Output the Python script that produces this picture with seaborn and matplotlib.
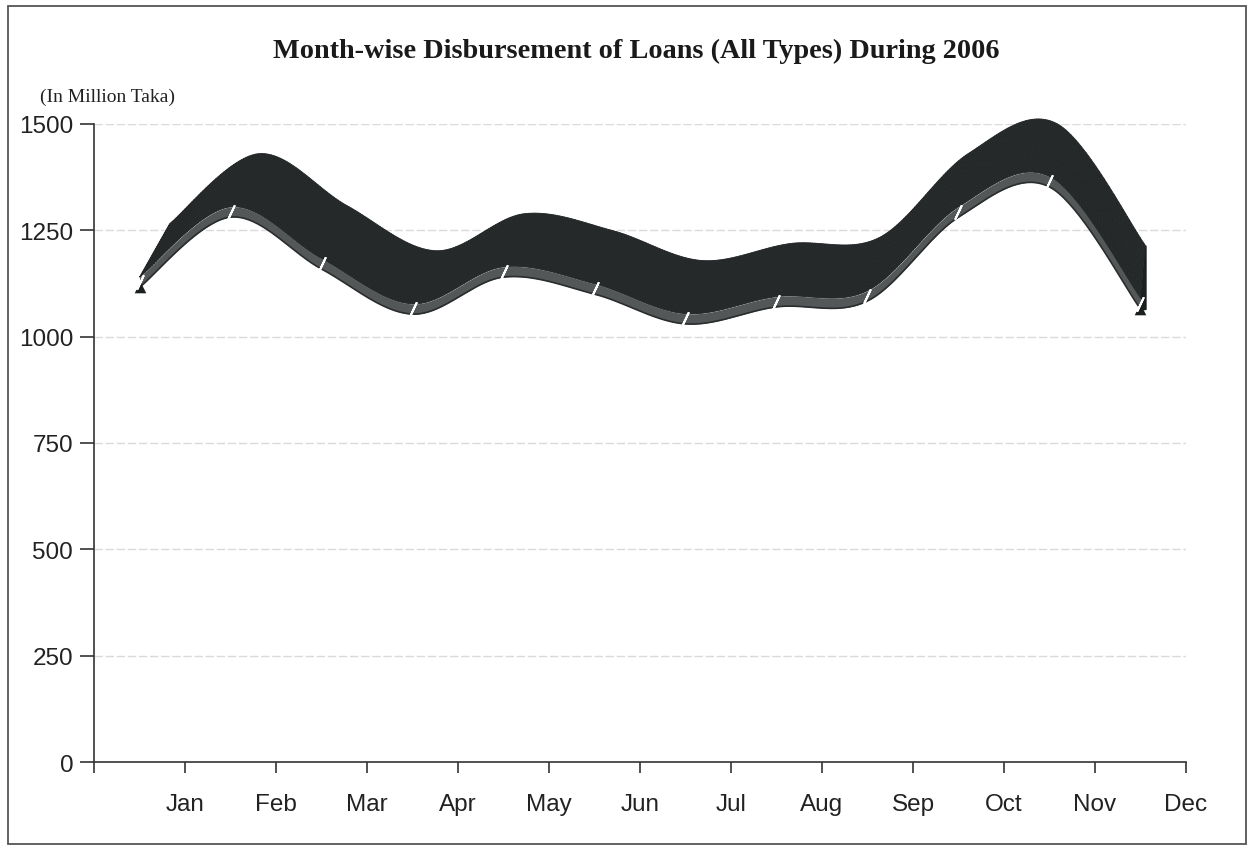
import numpy as np
import pandas as pd
import seaborn as sns
import matplotlib.pyplot as plt
from matplotlib.collections import PolyCollection
from matplotlib.patches import Rectangle

months = ['Jan', 'Feb', 'Mar', 'Apr', 'May', 'Jun', 'Jul', 'Aug', 'Sep', 'Oct', 'Nov', 'Dec']
disbursement = [1128, 1293, 1171, 1065, 1152, 1112, 1042, 1082, 1096, 1293, 1364, 1077]
yticks = [0, 250, 500, 750, 1000, 1250, 1500]

df = pd.DataFrame({'month': months, 'value': disbursement})
df['pos'] = np.arange(len(df)) + 0.5

sns.set_style('white')
plt.rcParams['font.family'] = ['Liberation Sans', 'DejaVu Sans']

fig = plt.figure(figsize=(12.57, 8.53), dpi=100)
ax = fig.add_axes([0.0748, 0.1055, 0.8687, 0.748])


# smoothed curve (catmull-rom) through the points, like excel's smoothed line
def smooth(x, y, n=40):
    x = np.asarray(x, float)
    y = np.asarray(y, float)
    px = np.concatenate([[x[0]], x, [x[-1]]])
    py = np.concatenate([[y[0]], y, [y[-1]]])
    xs, ys = [], []
    for i in range(1, len(px) - 2):
        t = np.linspace(0, 1, n, endpoint=False)
        for arr, out in ((px, xs), (py, ys)):
            p0, p1, p2, p3 = arr[i - 1], arr[i], arr[i + 1], arr[i + 2]
            out.append(0.5 * ((2 * p1) + (-p0 + p2) * t
                              + (2 * p0 - 5 * p1 + 4 * p2 - p3) * t ** 2
                              + (-p0 + 3 * p1 - 3 * p2 + p3) * t ** 3))
    xs.append([x[-1]])
    ys.append([y[-1]])
    return np.concatenate(xs), np.concatenate(ys)


sx, sy = smooth(df['pos'], df['value'])

half = 12
depth_y = 125
# depth offset in x shrinks to the right (perspective)
depth_x = 0.33 - 0.275 * (sx - sx.min()) / (sx.max() - sx.min())

front_top = sy + half
back_x = sx + depth_x
back_y = front_top + depth_y

quads = []
for i in range(len(sx) - 1):
    quads.append([(sx[i], front_top[i]), (sx[i + 1], front_top[i + 1]),
                  (back_x[i + 1], back_y[i + 1]), (back_x[i], back_y[i])])
top = PolyCollection(quads, facecolor='#242828', edgecolor='#242828',
                     linewidth=0.6, zorder=3, clip_on=False)
ax.add_collection(top)
# right end cap
cap = PolyCollection([[(sx[-1], sy[-1] - half), (sx[-1], front_top[-1]),
                       (back_x[-1], back_y[-1]), (back_x[-1], sy[-1] - half)]],
                     facecolor='#1c1f1f', edgecolor='#1c1f1f', zorder=3)
ax.add_collection(cap)

# front face of the ribbon
ax.fill_between(sx, sy - half, sy + half, color='#535757', lw=0, zorder=4)
ax.plot(sx, sy - half, color='#2a2d2d', lw=1.2, zorder=5)

sns.scatterplot(data=df, x='pos', y='value', marker=(2, 2, -25), s=110,
                color='white', edgecolor='white', linewidth=1.4, ax=ax, zorder=6, legend=False)
sns.scatterplot(data=df.iloc[[0, -1]], x='pos', y=df['value'].iloc[[0, -1]] - half, marker='^',
                s=70, color='#1c1f1f', linewidth=0, ax=ax, zorder=5, legend=False)

ax.set_xlim(0, 12)
ax.set_ylim(0, 1500)
ax.set_xticks(np.arange(0, 13))
ax.set_xticklabels([''] + months)
ax.set_yticks(yticks)
ax.set_xlabel('')
ax.set_ylabel('')
for y in yticks[1:]:
    ax.axhline(y, color='#dadada', lw=1, ls=(0, (6, 2)), zorder=1)

sns.despine(ax=ax, top=True, right=True)
for side in ['left', 'bottom']:
    ax.spines[side].set_color('#333333')
    ax.spines[side].set_linewidth(1.2)
ax.tick_params(axis='x', direction='out', length=8, width=1.2, color='#333333',
               labelsize=17.5, pad=14, labelcolor='#222222', bottom=True)
ax.tick_params(axis='y', direction='out', length=10, width=1.2, color='#333333',
               labelsize=17.5, pad=5, labelcolor='#222222', left=True)

fig.text(0.506, 0.94, 'Month-wise Disbursement of Loans (All Types) During 2006',
         ha='center', va='center', fontsize=20.3, fontweight='bold',
         family=['Liberation Serif', 'DejaVu Serif'], color='#1a1a1a')
fig.text(0.032, 0.886, '(In Million Taka)', ha='left', va='center', fontsize=14,
         family=['Liberation Serif', 'DejaVu Serif'], color='#222222')

fig.patches.append(Rectangle((0.006, 0.009), 0.985, 0.983, transform=fig.transFigure,
                             fill=False, edgecolor='#555555', lw=1.3))

fig.savefig('out.png', dpi=100)
